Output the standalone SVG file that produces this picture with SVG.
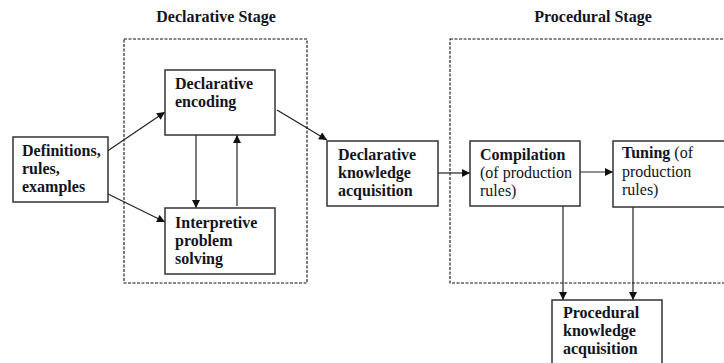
<svg xmlns="http://www.w3.org/2000/svg" width="724" height="363" viewBox="0 0 724 363">
<defs>
<marker id="ah" viewBox="0 0 10 10" refX="10" refY="5" markerWidth="9" markerHeight="8" markerUnits="userSpaceOnUse" orient="auto">
<path d="M0,0 L10,5 L0,10 Z" fill="#111"/>
</marker>
<style>
.box{fill:#fff;stroke:#333;stroke-width:1.5}
.stage{fill:none;stroke:#111;stroke-width:1.1;stroke-dasharray:3 1.5}
.t{font-family:"Liberation Serif","Times New Roman",serif;font-size:16px;fill:#141420}
.b{font-weight:bold}
.conn{fill:none;stroke:#222;stroke-width:1.2;marker-end:url(#ah)}
</style>
</defs>
<rect width="724" height="363" fill="#fff"/>
<g id="declarative-stage">
<rect class="stage" x="124" y="39" width="183" height="244"/>
<text class="t b" x="216" y="22" text-anchor="middle">Declarative Stage</text>
</g>
<g id="procedural-stage">
<rect class="stage" x="450" y="39" width="290" height="244"/>
<text class="t b" x="593" y="22" text-anchor="middle">Procedural Stage</text>
</g>
<g id="connectors">
<line class="conn" x1="106" y1="152" x2="165" y2="112"/>
<line class="conn" x1="104" y1="192" x2="165" y2="222"/>
<line class="conn" x1="196" y1="135" x2="196" y2="208"/>
<line class="conn" x1="237" y1="206" x2="237" y2="135"/>
<line class="conn" x1="277" y1="110" x2="327" y2="140"/>
<line class="conn" x1="438" y1="173" x2="470" y2="173"/>
<line class="conn" x1="580" y1="172" x2="613" y2="172"/>
<line class="conn" x1="563" y1="206" x2="563" y2="300"/>
<line class="conn" x1="633" y1="207" x2="633" y2="300"/>
</g>
<g id="definitions">
<rect class="box" x="13" y="137" width="95" height="65"/>
<text class="t b" x="22"><tspan x="22" y="156">Definitions,</tspan><tspan x="22" y="174">rules,</tspan><tspan x="22" y="192">examples</tspan></text>
</g>
<g id="declarative-encoding">
<rect class="box" x="165" y="70" width="110" height="65"/>
<text class="t b"><tspan x="175" y="89">Declarative</tspan><tspan x="175" y="107">encoding</tspan></text>
</g>
<g id="interpretive">
<rect class="box" x="165" y="208" width="110" height="66"/>
<text class="t b"><tspan x="175" y="228">Interpretive</tspan><tspan x="175" y="246">problem</tspan><tspan x="175" y="264">solving</tspan></text>
</g>
<g id="declarative-knowledge">
<rect class="box" x="327" y="141" width="111" height="65"/>
<text class="t b"><tspan x="338" y="160">Declarative</tspan><tspan x="338" y="178">knowledge</tspan><tspan x="338" y="196">acquisition</tspan></text>
</g>
<g id="compilation">
<rect class="box" x="470" y="141" width="110" height="65"/>
<text class="t"><tspan class="b" x="480" y="160">Compilation</tspan><tspan x="480" y="178">(of production</tspan><tspan x="480" y="196">rules)</tspan></text>
</g>
<g id="tuning">
<rect class="box" x="613" y="141" width="120" height="66"/>
<text class="t"><tspan class="b" x="622" y="158">Tuning</tspan><tspan> (of</tspan><tspan x="622" y="177">production</tspan><tspan x="622" y="195">rules)</tspan></text>
</g>
<g id="procedural-knowledge">
<rect class="box" x="552" y="300" width="110" height="75"/>
<text class="t b"><tspan x="563" y="318">Procedural</tspan><tspan x="563" y="336">knowledge</tspan><tspan x="563" y="354">acquisition</tspan></text>
</g>
</svg>
